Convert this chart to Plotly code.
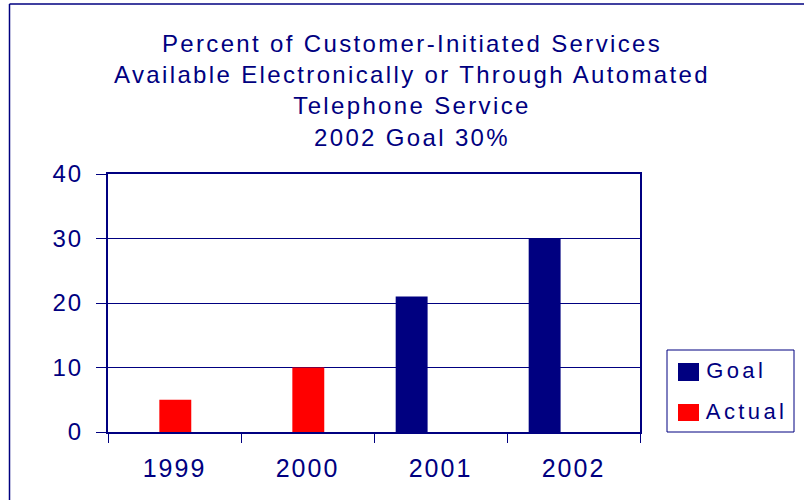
import plotly.graph_objects as go

# ---- data ----
years = ["1999", "2000", "2001", "2002"]
goal_values = [None, None, 21, 30]
actual_values = [5, 10, None, None]
y_ticks = [0, 10, 20, 30, 40]
title_lines = [
    "Percent of Customer-Initiated Services",
    "Available Electronically or Through Automated",
    "Telephone Service",
    "2002 Goal 30%",
]

NAVY = "#000080"
RED = "#FF0000"
FONT = "Liberation Sans, Arial, sans-serif"

W, H = 804, 500
# plot area in pixels
L, R, T, B = 108, 640, 174, 432

TITLE_SP, TICK_SP, LEG_SP = 2.35, 2.0, 3.4


def px_x(px):
    return (px - L) / (R - L)


def px_y(py):
    return (B - py) / (B - T)


fig = go.Figure()

bar_w = 0.24
fig.add_trace(go.Bar(
    name="Goal", x=years, y=goal_values,
    marker=dict(color=NAVY, line=dict(width=0)),
    width=bar_w, offset=-0.337, showlegend=False,
))
fig.add_trace(go.Bar(
    name="Actual", x=years, y=actual_values,
    marker=dict(color=RED, line=dict(width=0)),
    width=bar_w, offset=-0.114, showlegend=False,
))

shapes = []
# outer chart border (left and top edges)
shapes.append(dict(type="line", xref="paper", yref="paper",
                   x0=px_x(9.5), x1=px_x(9.5), y0=px_y(4), y1=px_y(520),
                   line=dict(color=NAVY, width=1.5)))
shapes.append(dict(type="line", xref="paper", yref="paper",
                   x0=px_x(9.5), x1=px_x(830), y0=px_y(4), y1=px_y(4),
                   line=dict(color=NAVY, width=1.5)))
# legend box
shapes.append(dict(type="rect", xref="paper", yref="paper",
                   x0=px_x(667), x1=px_x(794), y0=px_y(350), y1=px_y(432),
                   line=dict(color=NAVY, width=1), fillcolor="white"))
legend_items = [("Goal", NAVY, 363, 381, 370.5), ("Actual", RED, 404, 421, 411)]
annotations = []
for name, col, sy0, sy1, ty in legend_items:
    shapes.append(dict(type="rect", xref="paper", yref="paper",
                       x0=px_x(678), x1=px_x(699), y0=px_y(sy1), y1=px_y(sy0),
                       line=dict(width=0), fillcolor=col))
    # annotation text is centred in its box, so offset for the added letter spacing
    annotations.append(dict(text=name, xref="paper", yref="paper",
                            x=px_x(704 + len(name) * LEG_SP / 2), y=px_y(ty),
                            xanchor="left", yanchor="middle", showarrow=False,
                            font=dict(family=FONT, size=22, color=NAVY)))

fig.update_layout(
    width=W, height=H,
    margin=dict(l=L, r=W - R, t=T, b=H - B, pad=0),
    paper_bgcolor="white", plot_bgcolor="white",
    barmode="overlay",
    title=dict(text="<br>".join(title_lines), x=412 / W, xanchor="center",
               xref="container", yref="container", y=1 - 52 / H, yanchor="top",
               font=dict(family=FONT, size=24, color=NAVY)),
    shapes=shapes,
    annotations=annotations,
    xaxis=dict(type="category", categoryorder="array", categoryarray=years,
               showline=True, linecolor=NAVY, linewidth=2, mirror=True,
               ticks="outside", tickson="boundaries", ticklen=9, tickcolor=NAVY,
               tickwidth=1, showgrid=False, ticklabelstandoff=13,
               tickfont=dict(family=FONT, size=25, color=NAVY)),
    yaxis=dict(range=[0, 40], tickvals=y_ticks, showline=True, linecolor=NAVY,
               linewidth=2, mirror=True, ticks="outside", ticklen=10,
               tickcolor=NAVY, tickwidth=1, showgrid=True, gridcolor=NAVY,
               gridwidth=1, zeroline=False, ticklabelstandoff=8,
               tickfont=dict(family=FONT, size=24, color=NAVY)),
)

spacing_css = f"""
var st = document.createElement('style');
st.textContent = '.gtitle {{ letter-spacing: {TITLE_SP}px; }}'
  + ' .xtick text, .ytick text {{ letter-spacing: {TICK_SP}px; }}'
  + ' .annotation-text {{ letter-spacing: {LEG_SP}px; }}';
document.head.appendChild(st);
"""

fig.write_html("out.html", post_script=spacing_css)
